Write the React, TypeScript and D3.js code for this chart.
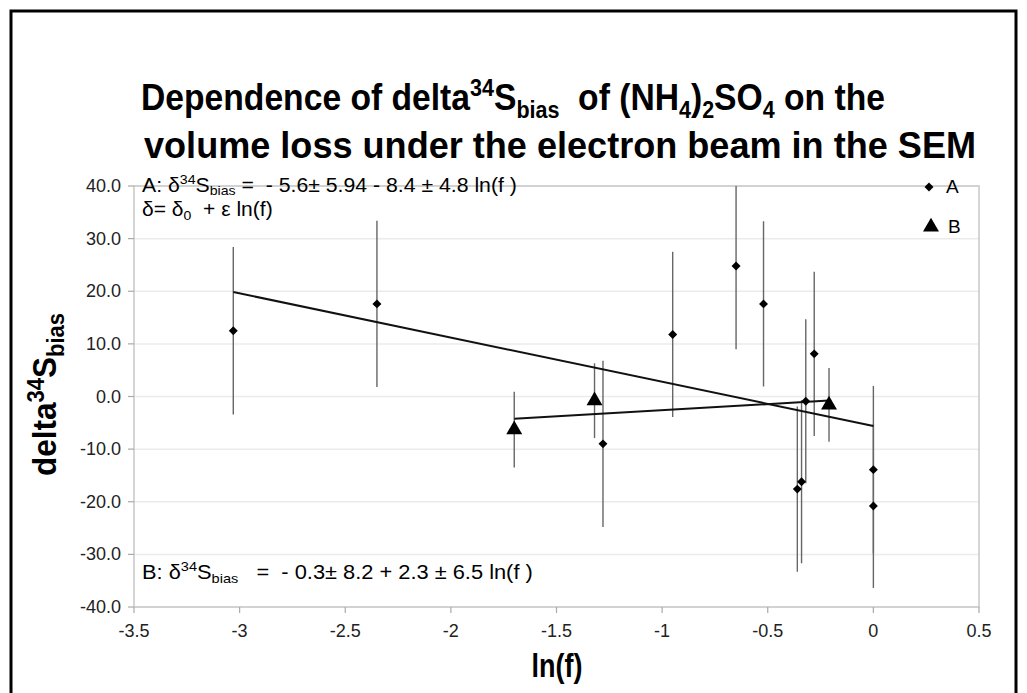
import React from "react";
import * as d3 from "d3";

// ---- Data ----
const seriesAX = [-3.03, -2.35, -1.28, -0.95, -0.65, -0.52, -0.28, -0.32, -0.36, -0.34, 0.0, 0.0];
const seriesAY = [12.5, 17.6, -9.0, 11.8, 24.8, 17.6, 8.1, -0.9, -17.6, -16.2, -13.9, -20.8];
const seriesAErr = [15.9, 15.8, 15.8, 15.7, 15.8, 15.7, 15.6, 15.6, 15.7, 15.5, 15.9, 15.6];

const seriesBX = [-1.70, -1.32, -0.21];
const seriesBY = [-6.3, -0.8, -1.6];
const seriesBErr = [7.2, 7.1, 7.0];

// fit: y = intercept + slope * x, drawn over the series' x range
const fitA = { intercept: -5.6, slope: -8.4 };
const fitB = { intercept: -0.3, slope: 2.3 };

const xTicks = [-3.5, -3, -2.5, -2, -1.5, -1, -0.5, 0, 0.5];
const yTicks = [40, 30, 20, 10, 0, -10, -20, -30, -40];
const legendNames = ["A", "B"];

const W = 1027;
const H = 693;
const plot = { left: 134, right: 979, top: 186, bottom: 607 };

export default function App() {
  const x = d3.scaleLinear().domain([-3.5, 0.5]).range([plot.left, plot.right]);
  const y = d3.scaleLinear().domain([-40, 40]).range([plot.bottom, plot.top]);

  const diamond = d3.symbol().type(d3.symbolSquare).size(40)()!;
  const triangle = d3.symbol().type(d3.symbolTriangle).size(110)()!;
  const line = d3.line<[number, number]>().x((d) => x(d[0])).y((d) => y(d[1]));

  const fitLine = (xs: number[], f: { intercept: number; slope: number }) => {
    const lo = d3.min(xs)!;
    const hi = d3.max(xs)!;
    return line([
      [lo, f.intercept + f.slope * lo],
      [hi, f.intercept + f.slope * hi],
    ])!;
  };

  const tickFont = "'Liberation Sans', Arial, sans-serif";
  const boldFont = "'Liberation Sans', Arial, sans-serif";
  const pre = { whiteSpace: "pre" as const };

  return (
    <svg width={W} height={H} style={{ position: "absolute", left: 0, top: 0, background: "#fff" }}>
      <rect x={11} y={11} width={1005} height={700} fill="#fff" stroke="#000" strokeWidth={3} />

      {/* Title */}
      <g transform="translate(513,110) scale(0.935,1.05)">
        <text x={0} y={0} textAnchor="middle" fontFamily={boldFont} fontWeight="bold" fontSize={36} fill="#000">
          Dependence of delta<tspan dy={-13} fontSize={23}>34</tspan>
          <tspan dy={13}>S</tspan>
          <tspan dy={8} fontSize={23}>bias</tspan>
          <tspan dy={-8}>{"\u00a0 of (NH"}</tspan>
          <tspan dy={8} fontSize={23}>4</tspan>
          <tspan dy={-8}>)</tspan>
          <tspan dy={8} fontSize={23}>2</tspan>
          <tspan dy={-8}>SO</tspan>
          <tspan dy={8} fontSize={23}>4</tspan>
          <tspan dy={-8}> on the</tspan>
        </text>
      </g>
      <g transform="translate(560,158) scale(1,1.05)">
        <text x={0} y={0} textAnchor="middle" fontFamily={boldFont} fontWeight="bold" fontSize={36} fill="#000" textLength={832} lengthAdjust="spacingAndGlyphs">
          volume loss under the electron beam in the SEM
        </text>
      </g>

      {/* gridlines */}
      {yTicks.map((t) => (
        <line key={"g" + t} x1={plot.left} x2={plot.right} y1={y(t)} y2={y(t)} stroke="#ebebeb" strokeWidth={1.5} />
      ))}
      {/* plot frame */}
      <rect x={plot.left} y={plot.top} width={plot.right - plot.left} height={plot.bottom - plot.top} fill="none" stroke="#c8c8c8" strokeWidth={1.5} />

      {/* y ticks */}
      {yTicks.map((t) => (
        <g key={"yt" + t}>
          <line x1={plot.left - 6} x2={plot.left} y1={y(t)} y2={y(t)} stroke="#aaa" strokeWidth={1.2} />
          <text x={plot.left - 13} y={y(t) + 6} textAnchor="end" fontFamily={tickFont} fontSize={18} fill="#222">
            {t.toFixed(1)}
          </text>
        </g>
      ))}
      {/* x ticks */}
      {xTicks.map((t) => (
        <g key={"xt" + t}>
          <line x1={x(t)} x2={x(t)} y1={plot.bottom} y2={plot.bottom + 6} stroke="#aaa" strokeWidth={1.2} />
          <text x={x(t)} y={plot.bottom + 30} textAnchor="middle" fontFamily={tickFont} fontSize={18} fill="#222">
            {String(t)}
          </text>
        </g>
      ))}

      {/* axis titles */}
      <g transform="translate(557,677) scale(0.9,1.1)">
        <text x={0} y={0} textAnchor="middle" fontFamily={boldFont} fontWeight="bold" fontSize={30} fill="#000">
          ln(f)
        </text>
      </g>
      <g transform={`translate(56, ${(plot.top + plot.bottom) / 2 - 2}) rotate(-90) scale(1.05,1.1)`}>
        <text x={0} y={0} textAnchor="middle" fontFamily={boldFont} fontWeight="bold" fontSize={30} fill="#000">
          delta<tspan dy={-11} fontSize={21}>34</tspan>
          <tspan dy={11}>S</tspan>
          <tspan dy={7} fontSize={21}>bias</tspan>
        </text>
      </g>

      {/* error bars */}
      {seriesAX.map((vx, i) => (
        <line key={"ea" + i} x1={x(vx)} x2={x(vx)} y1={y(seriesAY[i] - seriesAErr[i])} y2={y(Math.min(40, seriesAY[i] + seriesAErr[i]))} stroke="#666" strokeWidth={1.4} />
      ))}
      {seriesBX.map((vx, i) => (
        <line key={"eb" + i} x1={x(vx)} x2={x(vx)} y1={y(seriesBY[i] - seriesBErr[i])} y2={y(seriesBY[i] + seriesBErr[i])} stroke="#666" strokeWidth={1.4} />
      ))}

      {/* fit lines */}
      <path d={fitLine(seriesAX, fitA)} fill="none" stroke="#111" strokeWidth={2} />
      <path d={fitLine(seriesBX, fitB)} fill="none" stroke="#111" strokeWidth={2} />

      {/* markers */}
      {seriesAX.map((vx, i) => (
        <path key={"ma" + i} d={diamond} transform={`translate(${x(vx)},${y(seriesAY[i])}) rotate(45)`} fill="#000" />
      ))}
      {seriesBX.map((vx, i) => (
        <path key={"mb" + i} d={triangle} transform={`translate(${x(vx)},${y(seriesBY[i])})`} fill="#000" />
      ))}

      {/* legend */}
      <path d={diamond} transform={`translate(929,${plot.top + 1}) rotate(45)`} fill="#000" />
      <text x={946} y={plot.top + 7} fontFamily={tickFont} fontSize={19} fill="#000">{legendNames[0]}</text>
      <path d={triangle} transform={`translate(931,${plot.top + 41})`} fill="#000" />
      <text x={948} y={plot.top + 47} fontFamily={tickFont} fontSize={19} fill="#000">{legendNames[1]}</text>

      {/* equations */}
      <g transform={`translate(142,${plot.top + 6}) scale(1.09,1)`}>
        <text x={0} y={0} fontFamily={tickFont} fontSize={19.5} fill="#000" style={pre}>
          A: δ<tspan dy={-8} fontSize={13}>34</tspan>
          <tspan dy={8}>S</tspan>
          <tspan dy={3} fontSize={13}>bias</tspan>
          <tspan dy={-3}>{" =  - 5.6\u00b1 5.94 - 8.4 \u00b1 4.8 ln(f )"}</tspan>
        </text>
      </g>
      <g transform={`translate(142,${plot.top + 30}) scale(1.08,1)`}>
        <text x={0} y={0} fontFamily={tickFont} fontSize={19.5} fill="#000" style={pre}>
          δ= δ<tspan dy={4} fontSize={13}>0</tspan>
          <tspan dy={-4}>{"  + ε ln(f)"}</tspan>
        </text>
      </g>
      <g transform={`translate(142,${plot.bottom - 28}) scale(1.12,1)`}>
        <text x={0} y={0} fontFamily={tickFont} fontSize={19.5} fill="#000" style={pre}>
          B: δ<tspan dy={-8} fontSize={13}>34</tspan>
          <tspan dy={8}>S</tspan>
          <tspan dy={4} fontSize={13}>bias</tspan>
          <tspan dy={-4}>{"   =  - 0.3\u00b1 8.2 + 2.3 \u00b1 6.5 ln(f )"}</tspan>
        </text>
      </g>
    </svg>
  );
}
